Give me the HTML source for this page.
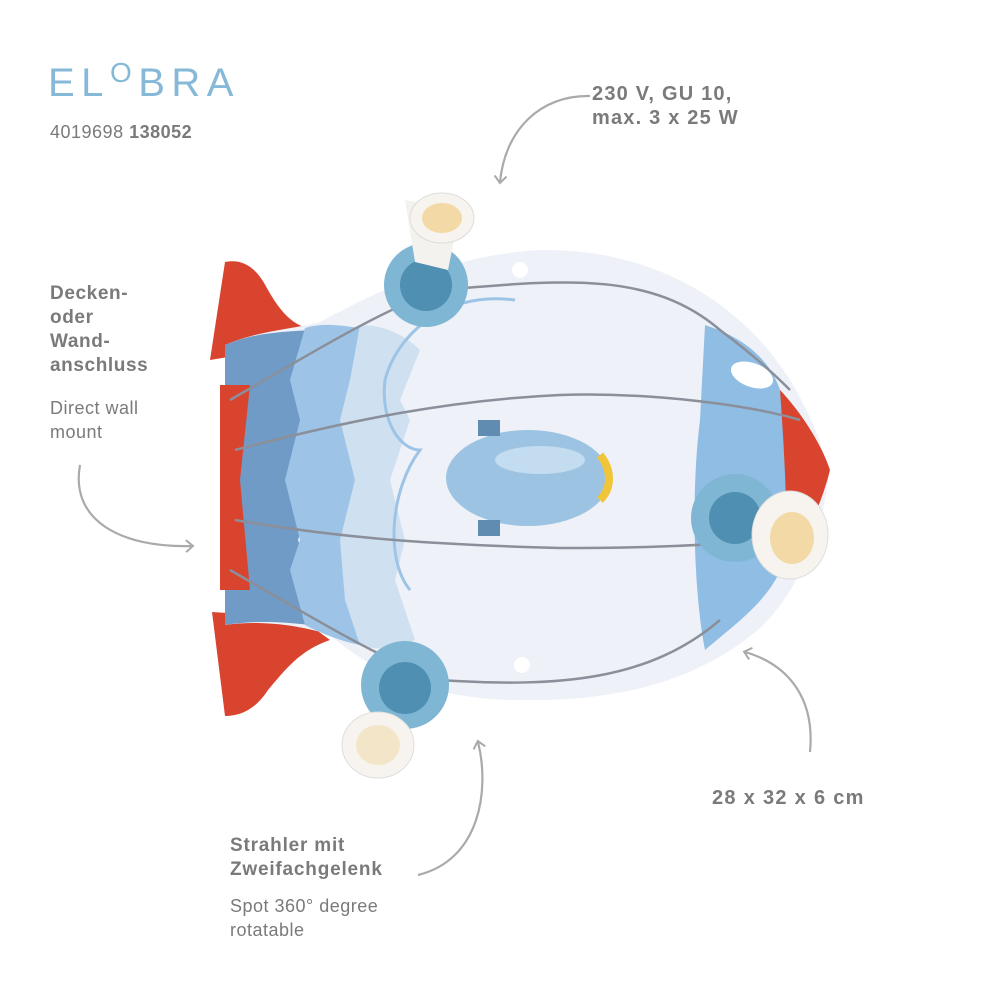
<!DOCTYPE html>
<html><head><meta charset="utf-8"><style>
body{margin:0;background:#fff;width:1000px;height:1000px;overflow:hidden;position:relative;font-family:"Liberation Sans",sans-serif}
.t{position:absolute;color:#7a7a7a;font-size:19px;line-height:24px;letter-spacing:1.2px}
.b{font-weight:bold}
</style></head><body>
<div class="t" style="left:48px;top:60px;font-size:40px;line-height:46px;color:#86b8d8;letter-spacing:6.5px">EL<span style="position:relative;top:-14px;font-size:28px">O</span>BRA</div>
<div class="t" style="left:50px;top:120px;font-size:18px;letter-spacing:0.5px">4019698 <span class="b">138052</span></div>
<div class="t b" style="left:592px;top:82px;font-size:20px;letter-spacing:1.2px">230 V, GU 10,<br>max. 3 x 25 W</div>
<div class="t b" style="left:50px;top:282px;letter-spacing:0.6px">Decken-<br>oder<br>Wand-<br>anschluss</div>
<div class="t" style="left:50px;top:396px;font-size:18px;letter-spacing:0.5px">Direct wall<br>mount</div>
<div class="t b" style="left:712px;top:786px;font-size:20px;letter-spacing:1.3px">28 x 32 x 6 cm</div>
<div class="t b" style="left:230px;top:834px;letter-spacing:0.8px">Strahler mit<br>Zweifachgelenk</div>
<div class="t" style="left:230px;top:894px;font-size:18px;letter-spacing:0.5px">Spot 360° degree<br>rotatable</div>
<svg width="1000" height="1000" style="position:absolute;left:0;top:0">
<defs><marker id="a" markerWidth="14" markerHeight="14" refX="7" refY="7" orient="auto" markerUnits="userSpaceOnUse"><path d="M1,1 L8,7 L1,13" fill="none" stroke="#aaa" stroke-width="2"/></marker></defs>
<g fill="none" stroke="#aaa" stroke-width="2.2">
<path d="M590,96 C540,95 505,130 500,182" marker-end="url(#a)"/>
<path d="M80,465 C70,520 120,548 192,546" marker-end="url(#a)"/>
<path d="M810,752 C815,700 790,665 745,652" marker-end="url(#a)"/>
<path d="M418,875 C480,860 490,790 478,742" marker-end="url(#a)"/>
</g>
<path d="M225,262 C245,258 258,270 268,290 C285,320 300,330 322,330 L300,345 L210,360 Z" fill="#d9442f"/>
<path d="M212,612 L300,618 L330,640 C300,650 285,670 268,690 C255,710 240,716 225,716 Z" fill="#d9442f"/>
<path d="M225,345 C260,330 290,330 320,322 C380,290 450,255 540,250 C650,248 740,300 790,380 C820,430 830,470 828,480 C818,560 780,610 760,628 C700,680 620,702 520,700 C430,700 370,670 330,635 C300,625 260,620 225,625 Z" fill="#eef1f7"/>
<path d="M778,388 C800,410 822,445 830,470 C820,510 805,535 790,562 Z" fill="#d9442f"/>
<path d="M225,345 C255,332 285,332 310,330 L320,380 L300,420 L318,480 L298,540 L320,600 L310,625 C285,622 255,620 225,625 Z" fill="#6f9bc6"/>
<path d="M305,328 C330,320 360,330 380,330 L375,385 L350,425 L365,480 L345,540 L370,600 L360,645 C335,640 315,630 305,625 L290,570 L300,540 L285,480 L300,420 L290,380 Z" fill="#9dc4e6"/>
<path d="M360,325 C390,325 410,340 420,350 L400,400 L410,420 L390,480 L405,540 L395,580 L415,640 C395,650 370,650 360,645 L345,600 L340,540 L355,480 L340,420 L350,380 Z" fill="#cfe1f1"/>
<path d="M220,385 L250,385 L240,480 L250,590 L220,590 Z" fill="#d9442f"/>
<path d="M705,325 C745,338 770,360 780,390 C785,460 788,520 785,560 C770,600 740,620 705,650 C695,600 690,500 700,420 Z" fill="#8fbde4"/>
<ellipse cx="752" cy="375" rx="22" ry="12" transform="rotate(20 752 375)" fill="#fff"/>
<path d="M515,300 C440,290 395,340 385,380 C380,420 400,450 420,450 C390,490 385,560 410,590" fill="none" stroke="#9dc4e6" stroke-width="3"/>
<g fill="none" stroke="#8a8f9a" stroke-width="2.5">
<path d="M230,400 C300,360 380,310 440,290 C560,280 650,270 720,330 C760,360 780,380 790,390"/>
<path d="M235,450 C350,420 450,400 560,395 C650,392 750,405 800,420"/>
<path d="M235,520 C350,540 450,545 560,548 C650,548 720,545 750,540"/>
<path d="M230,570 C300,610 380,660 440,680 C560,688 650,680 720,620"/>
</g>
<ellipse cx="528" cy="478" rx="82" ry="48" fill="#9cc4e2"/>
<ellipse cx="540" cy="460" rx="45" ry="14" fill="#c3dcef"/>
<path d="M600,455 C612,470 612,488 600,500" fill="none" stroke="#f0c53a" stroke-width="8"/>
<rect x="478" y="420" width="22" height="16" fill="#5f8cb0"/><rect x="478" y="520" width="22" height="16" fill="#5f8cb0"/>
<circle cx="520" cy="270" r="8" fill="#fff"/><circle cx="522" cy="665" r="8" fill="#fff"/>
<g>
<circle cx="426" cy="285" r="42" fill="#7fb6d4"/><circle cx="426" cy="285" r="26" fill="#4f8fb2"/>
<path d="M405,200 L460,210 L448,270 L415,262 Z" fill="#f4f2ee"/><ellipse cx="442" cy="218" rx="32" ry="25" fill="#f7f4ef" stroke="#ddd"/><ellipse cx="442" cy="218" rx="20" ry="15" fill="#f3d9a5"/>
<circle cx="735" cy="518" r="44" fill="#7fb6d4"/><circle cx="735" cy="518" r="26" fill="#4f8fb2"/>
<ellipse cx="790" cy="535" rx="38" ry="44" fill="#f7f4ef" stroke="#ddd"/><ellipse cx="792" cy="538" rx="22" ry="26" fill="#f3d9a5"/>
<circle cx="405" cy="685" r="44" fill="#7fb6d4"/><circle cx="405" cy="688" r="26" fill="#4f8fb2"/>
<ellipse cx="378" cy="745" rx="36" ry="33" fill="#f7f4ef" stroke="#ddd"/><ellipse cx="378" cy="745" rx="22" ry="20" fill="#f3e6c8"/>
</g>
</svg>
</body></html>
